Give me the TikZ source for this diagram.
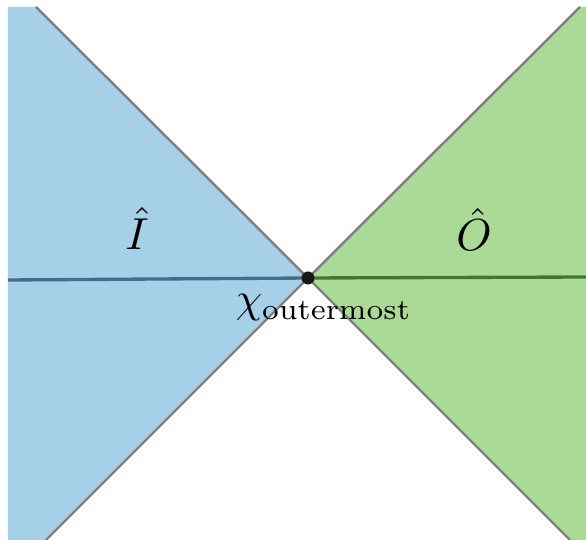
\documentclass[tikz,border=0pt]{standalone}
\usepackage{amsmath}
\usepackage{tikz}

\definecolor{inblue}{RGB}{166,207,232}
\definecolor{outgreen}{RGB}{171,218,151}
\definecolor{sliceblue}{RGB}{66,110,142}
\definecolor{slicegreen}{RGB}{62,120,46}
\definecolor{conegray}{RGB}{128,128,128}

\begin{document}
\begin{tikzpicture}[
    x=0.02cm, y=-0.02cm,
    cone/.style={draw=conegray, line width=1.4pt},
    slice/.style={line width=1.9pt},
    dot/.style={circle, fill=black!90, minimum size=7.4pt, inner sep=0pt},
    lbl/.style={scale=2.55, transform shape, anchor=base, inner sep=0pt},
    chilbl/.style={scale=2.4, transform shape, anchor=base west, inner sep=0pt}
  ]
  \useasboundingbox (0,0) rectangle (586,540);

  % corners of the two wedges
  \coordinate (itop)  at (36,7);
  \coordinate (ibot)  at (46,540);
  \coordinate (otop)  at (580,7);
  \coordinate (obot)  at (570,540);
  \coordinate (ileft) at (8,280);
  \coordinate (oright) at (586,277);
  \coordinate (mid)   at (308,278);

  \fill[inblue]   (8,7) -- (itop) -- (mid) -- (ibot) -- (8,540) -- cycle;
  \fill[outgreen] (otop) -- (586,7) -- (586,540) -- (obot) -- (mid) -- cycle;

  \draw[slice, draw=sliceblue]  (ileft) -- (mid);
  \draw[slice, draw=slicegreen] (mid) -- (oright);

  \draw[cone] (itop) -- (mid) -- (ibot);
  \draw[cone] (otop) -- (mid) -- (obot);

  \node[dot] (chi) at (mid) {};
  \node[lbl]    (ihat) at (137,250) {$\hat{I}$};
  \node[lbl]    (ohat) at (474,251) {$\hat{O}$};
  \node[chilbl] (chilabel) at (235,313) {$\chi_{\text{outermost}}$};
\end{tikzpicture}
\end{document}
